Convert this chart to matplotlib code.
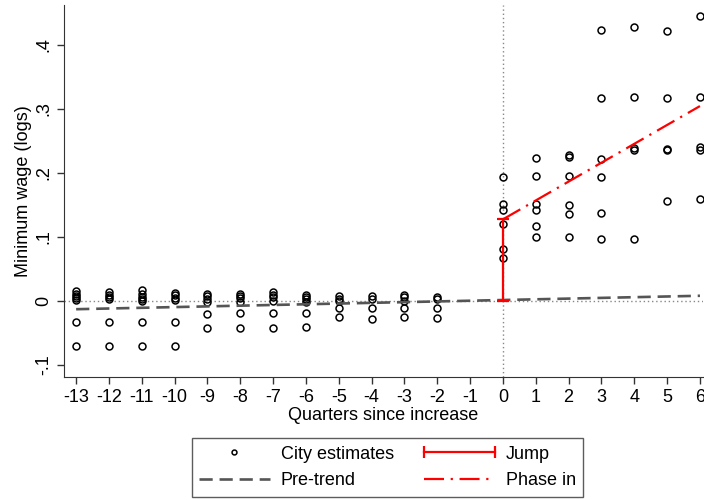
import matplotlib
matplotlib.use('Agg')
import matplotlib.pyplot as plt
from matplotlib.lines import Line2D
from matplotlib.legend_handler import HandlerLine2D

plt.rcParams['font.family'] = ['Liberation Sans', 'DejaVu Sans']
plt.rcParams['axes.unicode_minus'] = False

# city estimates by quarter since increase
quarters = [-13, -12, -11, -10, -9, -8, -7, -6, -5, -4, -3, -2, 0, 1, 2, 3, 4, 5, 6]
city_est = [
    [0.015, 0.011, 0.007, 0.004, 0.001, -0.033, -0.071],
    [0.014, 0.009, 0.005, 0.002, -0.033, -0.071],
    [0.016, 0.011, 0.006, 0.002, -0.001, -0.033, -0.071],
    [0.012, 0.008, 0.004, 0.001, -0.033, -0.071],
    [0.011, 0.007, 0.003, -0.002, -0.021, -0.043],
    [0.011, 0.007, 0.004, -0.003, -0.019, -0.043],
    [0.013, 0.009, 0.005, 0.000, -0.020, -0.043],
    [0.008, 0.006, 0.003, -0.003, -0.020, -0.041],
    [0.007, 0.003, -0.001, -0.011, -0.026],
    [0.007, 0.003, -0.011, -0.029],
    [0.008, 0.005, 0.000, -0.011, -0.026],
    [0.005, 0.002, -0.011, -0.027],
    [0.193, 0.151, 0.141, 0.119, 0.080, 0.067],
    [0.223, 0.194, 0.151, 0.141, 0.117, 0.100],
    [0.227, 0.225, 0.195, 0.149, 0.136, 0.099],
    [0.423, 0.316, 0.222, 0.193, 0.137, 0.097],
    [0.427, 0.318, 0.239, 0.235, 0.097],
    [0.422, 0.316, 0.237, 0.236, 0.155],
    [0.445, 0.318, 0.240, 0.235, 0.158],
]

pretrend_x = [-13, 6]
pretrend_y = [-0.0135, 0.0075]
jump_x = 0
jump_top = 0.127
phase_x = [0, 6]
phase_y = [0.127, 0.304]

xticks = list(range(-13, 7))
yticks = [-0.1, 0, 0.1, 0.2, 0.3, 0.4]
ytick_labels = ['-.1', '0', '.1', '.2', '.3', '.4']

fs = 13

fig = plt.figure(figsize=(7.04, 5), dpi=100)
ax = fig.add_axes([0.0909, 0.2466, 0.908, 0.7434])

ax.axhline(0, color='#888888', lw=1, ls=(0, (1, 2)), zorder=1)
ax.axvline(0, color='#888888', lw=1, ls=(0, (1, 2)), zorder=1)

xs, ys = [], []
for q, vals in zip(quarters, city_est):
    xs += [q] * len(vals)
    ys += vals
ax.plot(xs, ys, 'o', mfc='none', mec='black', ms=5, mew=1.1, zorder=3)

ax.plot(pretrend_x, pretrend_y, color='#555555', lw=1.9, ls=(0, (5, 2.6)), zorder=4)
ax.errorbar(jump_x, jump_top / 2, yerr=jump_top / 2, fmt='none', ecolor='red',
            elinewidth=1.6, capsize=4.5, capthick=1.6, zorder=5)
ax.plot(phase_x, phase_y, color='red', lw=1.6, ls=(0, (9, 3, 1, 3)), zorder=5)

ax.set_xlim(-13.37, 6.1)
ax.set_ylim(-0.119, 0.462)
ax.set_xticks(xticks)
ax.set_yticks(yticks)
ax.set_yticklabels(ytick_labels, rotation=90, va='center')
ax.tick_params(labelsize=fs, length=5, width=1, color='#333333')
for s in ['top', 'right']:
    ax.spines[s].set_visible(False)
for s in ['left', 'bottom']:
    ax.spines[s].set_color('#333333')
ax.set_xlabel('Quarters since increase', fontsize=fs, labelpad=1)
ax.set_ylabel('Minimum wage (logs)', fontsize=fs, labelpad=2.5)

h_city = Line2D([], [], ls='none', marker='o', mfc='none', mec='black', ms=3.5, mew=1.1)
h_pre = Line2D([], [], color='#555555', lw=1.9, ls=(0, (5, 2.6)))
h_jump = Line2D([], [], color='red', lw=1.6, marker='|', ms=8, mew=1.6)
h_phase = Line2D([], [], color='red', lw=1.6, ls=(0, (9, 3, 1, 3)))
leg = fig.legend([h_city, h_pre, h_jump, h_phase],
                 ['City estimates', 'Pre-trend', 'Jump', 'Phase in'],
                 ncol=2, loc='center', bbox_to_anchor=(0.5504, 0.065),
                 fontsize=fs, frameon=True, fancybox=False, edgecolor='#333333',
                 handlelength=3.9, columnspacing=1.7, handletextpad=0.6,
                 borderpad=0.4, labelspacing=0.55,
                 handler_map={h_jump: HandlerLine2D(numpoints=2, marker_pad=0)})
leg.get_frame().set_linewidth(1)

fig.savefig('out.png', dpi=100)
